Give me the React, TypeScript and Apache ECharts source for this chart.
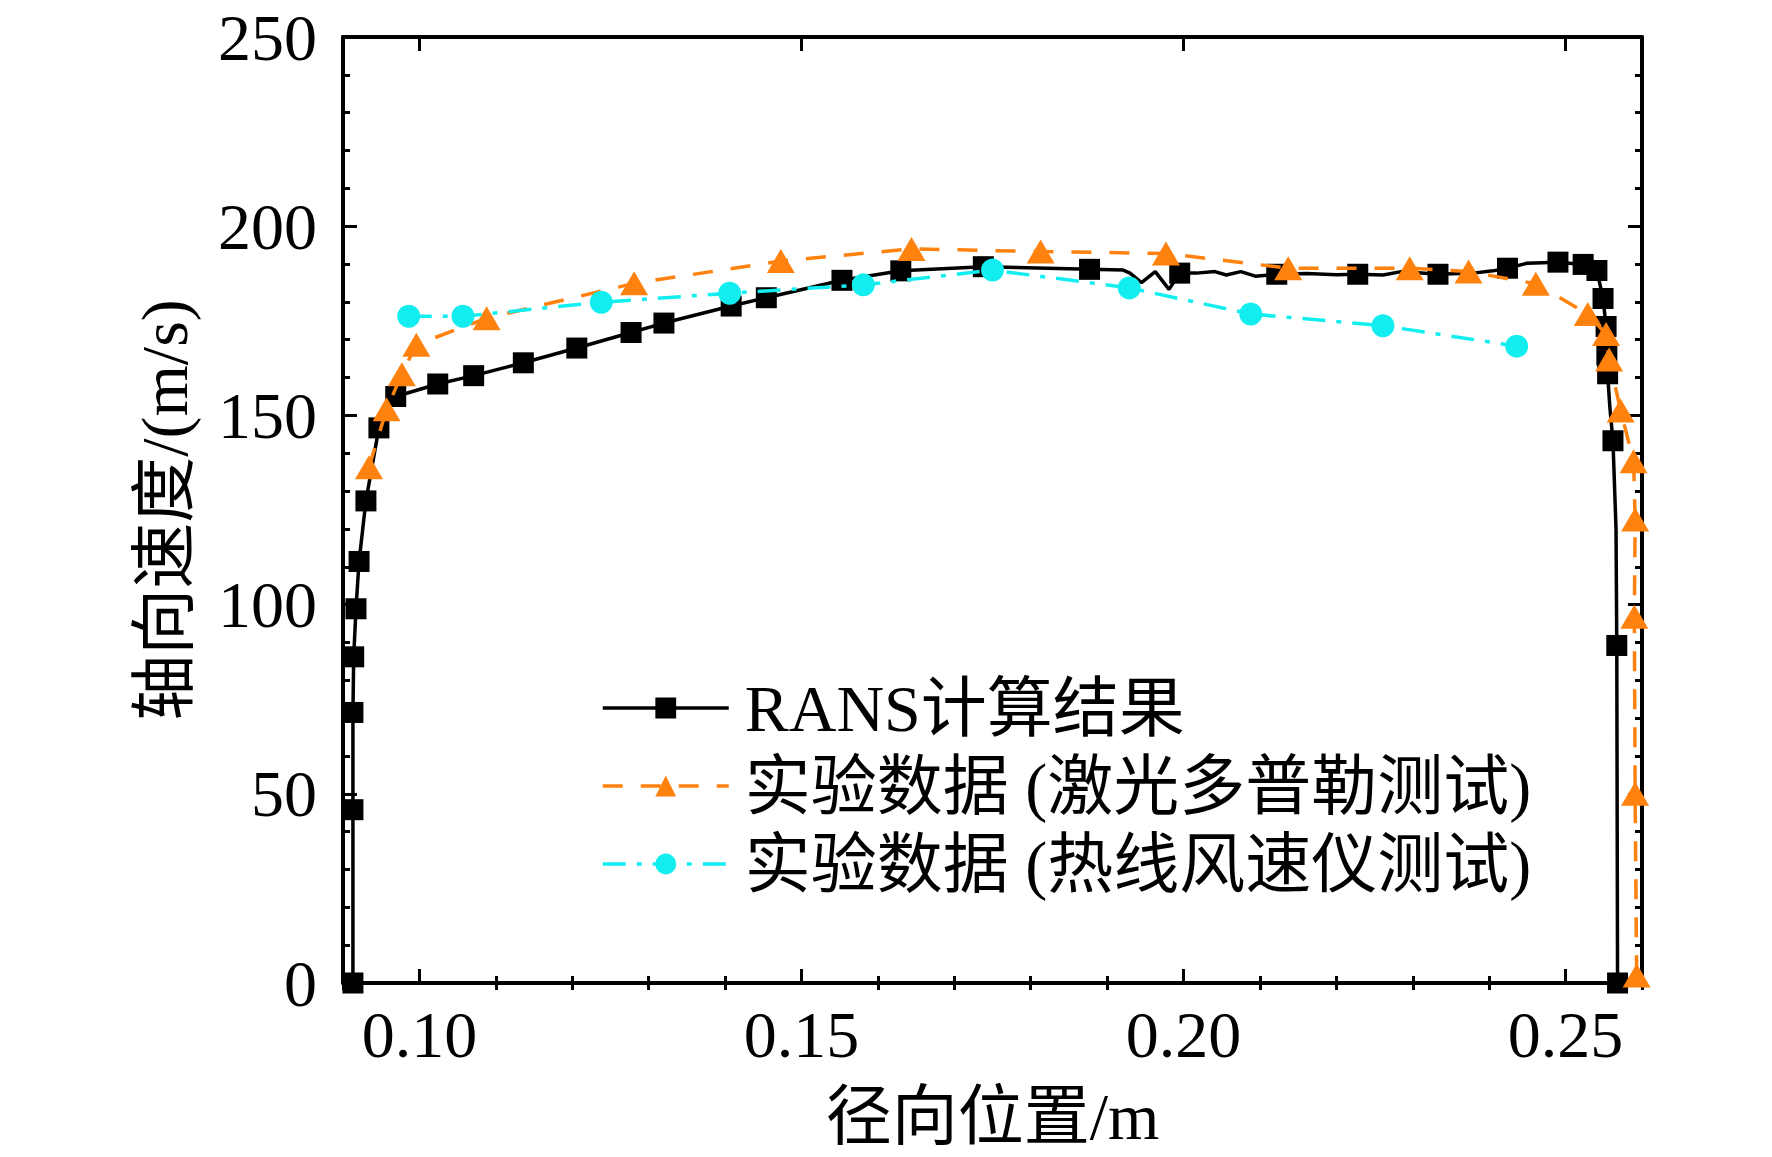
import React, { useEffect, useRef } from "react";
import * as echarts from "echarts";

// ---- Data ----
// RANS result: x (m), velocity (m/s), marker shown (1) or not (0)
const ransX = [
  0.0913, 0.0913, 0.0913, 0.0914, 0.0917, 0.0921, 0.093, 0.0947, 0.0969, 0.1024,
  0.1071, 0.1136, 0.1206, 0.1277, 0.132, 0.1408, 0.1454, 0.1553, 0.163, 0.1738,
  0.1877, 0.1921, 0.193, 0.1945, 0.1963, 0.1981, 0.1995, 0.2017, 0.2041, 0.2056,
  0.2075, 0.2094, 0.2122, 0.2161, 0.22, 0.2228, 0.2261, 0.2285, 0.2333, 0.2379,
  0.2405, 0.2424, 0.2449, 0.249, 0.2523, 0.2541, 0.2549, 0.2553, 0.2554, 0.2555,
  0.2558, 0.2562, 0.2566, 0.2567, 0.2568,
];
const ransY = [
  0, 45.8, 71.5, 86.2, 98.9, 111.4, 127.4, 146.7, 155.0, 158.3,
  160.5, 163.9, 167.8, 171.9, 174.4, 178.9, 181.1, 185.7, 188.2, 189.3,
  188.6, 188.4, 187.6, 185.1, 188.0, 183.3, 187.6, 187.6, 188.0, 187.1,
  188.0, 186.8, 187.3, 187.5, 187.2, 187.3, 187.1, 188.0, 187.3, 187.6,
  188.2, 188.9, 190.2, 190.5, 189.9, 188.3, 180.9, 173.5, 166.0, 161.0,
  152.0, 143.3, 120.0, 89.2, 0,
];
const ransMarked = [
  1, 1, 1, 1, 1, 1, 1, 1, 1, 1,
  1, 1, 1, 1, 1, 1, 1, 1, 1, 1,
  1, 0, 0, 0, 0, 0, 1, 0, 0, 0,
  0, 0, 1, 0, 0, 1, 0, 0, 1, 0,
  0, 1, 0, 1, 1, 1, 1, 1, 1, 1,
  0, 1, 0, 1, 1,
];

// Laser Doppler measurement
const ldvX = [
  0.0934, 0.0957, 0.0977, 0.0996, 0.1088, 0.1281, 0.1473, 0.1644, 0.1813, 0.1977,
  0.2137, 0.2296, 0.2373, 0.2461, 0.2529, 0.2553, 0.2557, 0.2572, 0.2589, 0.2591,
  0.259, 0.2591, 0.2593,
];
const ldvY = [
  136.3, 151.6, 160.9, 168.7, 175.7, 184.9, 190.8, 194.0, 193.3, 192.8,
  188.9, 188.9, 188.0, 184.8, 176.8, 171.5, 164.8, 151.3, 137.9, 122.5,
  96.8, 50.0, 2.0,
];

// Hot-wire anemometer measurement
const hwX = [0.0986, 0.1057, 0.1238, 0.1406, 0.1581, 0.175, 0.1929, 0.2088, 0.2261, 0.2436];
const hwY = [176.2, 176.2, 179.9, 182.3, 184.5, 188.4, 183.7, 176.8, 173.7, 168.3];

// Axes
const xMin = 0.09;
const xMax = 0.26;
const xMajorTicks = [0.1, 0.15, 0.2, 0.25];
const xMinorTicks = [
  0.09, 0.11, 0.12, 0.13, 0.14, 0.16, 0.17, 0.18, 0.19, 0.21, 0.22, 0.23, 0.24, 0.26,
];
const yMin = 0;
const yMax = 250;
const yInterval = 50;

const seriesNames = ["RANS计算结果", "实验数据 (激光多普勒测试)", "实验数据 (热线风速仪测试)"];
const xTitle = "径向位置/m";
const yTitle = "轴向速度/(m/s)";

const FONT = "'Liberation Serif', 'Times New Roman', 'Noto Sans CJK SC', serif";
const ORANGE = "#FF820F";
const CYAN = "#12EEF0";

export default function App() {
  const ref = useRef<HTMLDivElement>(null);

  useEffect(() => {
    if (!ref.current) return;
    const chart = echarts.init(ref.current, undefined, { renderer: "svg" });

    const ransData = ransX.map((x, i) =>
      ransMarked[i]
        ? { value: [x, ransY[i]] }
        : { value: [x, ransY[i]], symbol: "none" }
    );
    const ldvData = ldvX.map((x, i) => [x, ldvY[i]]);
    const hwData = hwX.map((x, i) => [x, hwY[i]]);

    const axisLine = { show: true, onZero: false, lineStyle: { color: "#000", width: 4 } };
    const majorTick = (vals?: number[]) => ({
      show: true,
      inside: true,
      length: 14,
      lineStyle: { color: "#000", width: 3 },
      ...(vals ? { customValues: vals } : {}),
    });
    const minorTickAxis = (vals: number[]) => ({
      show: true,
      inside: true,
      length: 7,
      lineStyle: { color: "#000", width: 3 },
      customValues: vals,
    });

    const baseX = {
      type: "value" as const,
      min: xMin,
      max: xMax,
      splitLine: { show: false },
    };
    const baseY = {
      type: "value" as const,
      min: yMin,
      max: yMax,
      interval: yInterval,
      splitLine: { show: false },
    };

    chart.setOption({
      animation: false,
      backgroundColor: "#fff",
      grid: { left: 343, top: 37, width: 1299, height: 946, containLabel: false },
      xAxis: [
        {
          ...baseX,
          position: "bottom",
          axisLine,
          axisTick: majorTick(xMajorTicks),
          axisLabel: {
            show: true,
            customValues: xMajorTicks,
            formatter: (v: number) => v.toFixed(2),
            margin: 18,
            color: "#000",
            fontSize: 66,
            fontFamily: FONT,
          },
          name: xTitle,
          nameLocation: "middle",
          nameGap: 100,
          nameTextStyle: { color: "#000", fontSize: 66, fontFamily: FONT },
        },
        {
          ...baseX,
          position: "bottom",
          axisLine: { show: false },
          axisTick: minorTickAxis(xMinorTicks),
          axisLabel: { show: false },
        },
        {
          ...baseX,
          position: "top",
          axisLine,
          axisTick: majorTick(xMajorTicks),
          axisLabel: { show: false },
        },
        {
          ...baseX,
          position: "top",
          axisLine: { show: false },
          axisTick: minorTickAxis(xMinorTicks),
          axisLabel: { show: false },
        },
      ],
      yAxis: [
        {
          ...baseY,
          position: "left",
          axisLine,
          axisTick: majorTick(),
          minorTick: { show: true, splitNumber: 5, length: 7, lineStyle: { color: "#000", width: 3 } },
          minorSplitLine: { show: false },
          axisLabel: {
            show: true,
            margin: 26,
            color: "#000",
            fontSize: 66,
            lineHeight: 60,
            fontFamily: FONT,
          },
          name: yTitle,
          nameLocation: "middle",
          nameRotate: 90,
          nameGap: 146,
          nameTextStyle: { color: "#000", fontSize: 66, fontFamily: FONT },
        },
        {
          ...baseY,
          position: "right",
          axisLine,
          axisTick: majorTick(),
          minorTick: { show: true, splitNumber: 5, length: 7, lineStyle: { color: "#000", width: 3 } },
          minorSplitLine: { show: false },
          axisLabel: { show: false },
        },
      ],
      legend: {
        orient: "vertical",
        left: 596,
        top: 670,
        itemWidth: 126,
        itemHeight: 26,
        itemGap: 12,
        lineStyle: { width: 3.5 },
        textStyle: {
          color: "#000",
          fontSize: 66,
          fontFamily: FONT,
          padding: [0, 0, 0, 11],
        },
        data: seriesNames,
      },
      series: [
        {
          name: seriesNames[0],
          type: "line",
          xAxisIndex: 0,
          yAxisIndex: 0,
          data: ransData,
          symbol: "rect",
          symbolSize: 21,
          showAllSymbol: true,
          clip: false,
          lineStyle: { color: "#000", width: 3.5 },
          itemStyle: { color: "#000" },
          z: 3,
        },
        {
          name: seriesNames[1],
          type: "line",
          xAxisIndex: 0,
          yAxisIndex: 0,
          data: ldvData,
          symbol: "triangle",
          symbolSize: [28, 24],
          showAllSymbol: true,
          clip: false,
          lineStyle: { color: ORANGE, width: 3.5, type: [20, 18] },
          itemStyle: { color: ORANGE },
          z: 4,
        },
        {
          name: seriesNames[2],
          type: "line",
          xAxisIndex: 0,
          yAxisIndex: 0,
          data: hwData,
          symbol: "circle",
          symbolSize: 23,
          showAllSymbol: true,
          clip: false,
          lineStyle: { color: CYAN, width: 3.5, type: [23, 11, 5, 11] },
          itemStyle: { color: CYAN },
          z: 5,
        },
      ],
    });

    return () => chart.dispose();
  }, []);

  return (
    <div
      ref={ref}
      style={{ position: "absolute", left: 0, top: 0, width: 1772, height: 1157 }}
    />
  );
}
